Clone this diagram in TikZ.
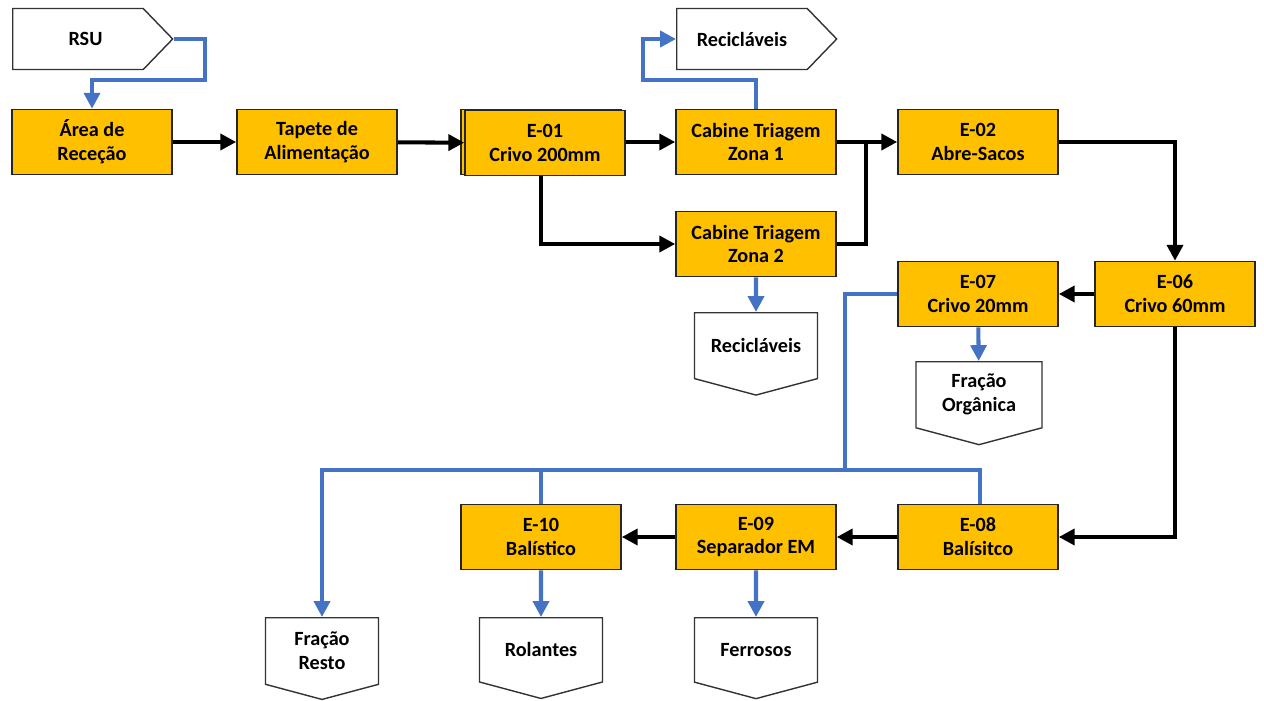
\documentclass[tikz,border=0pt]{standalone}
\usepackage{fontspec}
\setmainfont{Carlito}
\usetikzlibrary{arrows.meta,shapes.symbols,shadows}
\definecolor{boxfill}{HTML}{FFC000}
\definecolor{flowblue}{HTML}{4472C4}
\begin{document}
\begin{tikzpicture}[x=0.02cm,y=-0.02cm,
  font=\fontsize{11.5}{13.6}\selectfont\bfseries,
  unit/.style={draw=black!85,line width=0.9pt,fill=boxfill,minimum width=3.2cm,
    minimum height=1.3cm,align=center,inner sep=0pt},
  inlet/.style={signal,signal to=east,signal pointer angle=92,draw=black!80,line width=0.8pt,
    fill=white,minimum width=3.2cm,minimum height=1.22cm,inner sep=0pt},
  outlet/.style={signal,signal to=south,signal pointer angle=150,draw=black!80,line width=0.8pt,
    fill=white,minimum width=2.4cm,minimum height=1.48cm,align=center,inner sep=0pt},
  mainflow/.style={line width=2.3pt,-{Triangle[length=9pt,width=9pt]}},
  sideflow/.style={flowblue,line width=2.3pt,-{Triangle[length=9pt,width=9pt]}},
  sideline/.style={flowblue,line width=2.3pt}]
\useasboundingbox (0,0) rectangle (1264,700);

\node[inlet,anchor=west] (rsu) at (12,39) {\hspace*{0.3cm}RSU};
\node[unit] (rececao) at (92,142) {Área de\\Receção};
\node[unit] (tapete) at (317,142) {Tapete de\\Alimentação};
\node[unit,copy shadow={shadow xshift=-0.08cm,shadow yshift=0.02cm}] (e01) at (545,143) {E-01\\Crivo 200mm};
\node[unit] (cab1) at (756,142) {Cabine Triagem\\Zona 1};
\node[unit] (cab2) at (756,244) {Cabine Triagem\\Zona 2};
\node[inlet,anchor=west] (recA) at (676,39) {Recicláveis};
\node[outlet,minimum width=2.46cm,minimum height=1.56cm,anchor=north] (recB) at (756,312) {Recicláveis};
\node[outlet,minimum width=2.52cm,minimum height=1.52cm,anchor=north] (organica) at (979,361) {Fração\\Orgânica};
\node[unit] (e02) at (978,142) {E-02\\Abre-Sacos};
\node[unit] (e06) at (1175,294) {E-06\\Crivo 60mm};
\node[unit] (e07) at (978,294) {E-07\\Crivo 20mm};
\node[unit] (e08) at (978,537) {E-08\\Balísitco};
\node[unit] (e09) at (756,537) {E-09\\Separador EM};
\node[unit] (e10) at (541,537) {E-10\\Balístico};
\node[outlet,minimum width=2.26cm,anchor=north] (resto) at (322,617) {Fração\\Resto};
\node[outlet,minimum width=2.46cm,anchor=north] (rolantes) at (541,617) {Rolantes};
\node[outlet,minimum width=2.46cm,anchor=north] (ferrosos) at (756,617) {Ferrosos};

\coordinate (inbend) at (205,80);
\coordinate (recbend) at (643,80);
\coordinate (join) at (866,142);
\coordinate (bus) at (845,470);

\draw[mainflow] (rececao) -- (tapete);
\draw[mainflow] (tapete) -- (e01);
\draw[mainflow] (e01.east |- cab1) -- (cab1);
\draw[mainflow] (e01.south -| 541,0) |- (cab2);
\draw[mainflow] (cab1) -- (e02);
\draw[line width=2.3pt] (cab2) -| (join);
\draw[mainflow] (e02) -| (e06);
\draw[mainflow] (e06) -- (e07);
\draw[mainflow] (e06) |- (e08);
\draw[mainflow] (e08) -- (e09);
\draw[mainflow] (e09) -- (e10);

\draw[sideflow] (rsu.east) -| (inbend) -| (rececao);
\draw[sideflow] (cab1) |- (recbend) |- (recA.west);
\draw[sideflow] (cab2) -- (recB);
\draw[sideflow] (e07) -- (organica);
\draw[sideflow] (e10) -- (rolantes);
\draw[sideflow] (e09) -- (ferrosos);
\draw[sideline] (e07) -| (bus);
\draw[sideline] (e08.north -| 980,0) |- (bus);
\draw[sideline] (e10) -- (e10 |- bus);
\draw[sideflow] (bus) -| (resto);
\end{tikzpicture}
\end{document}
